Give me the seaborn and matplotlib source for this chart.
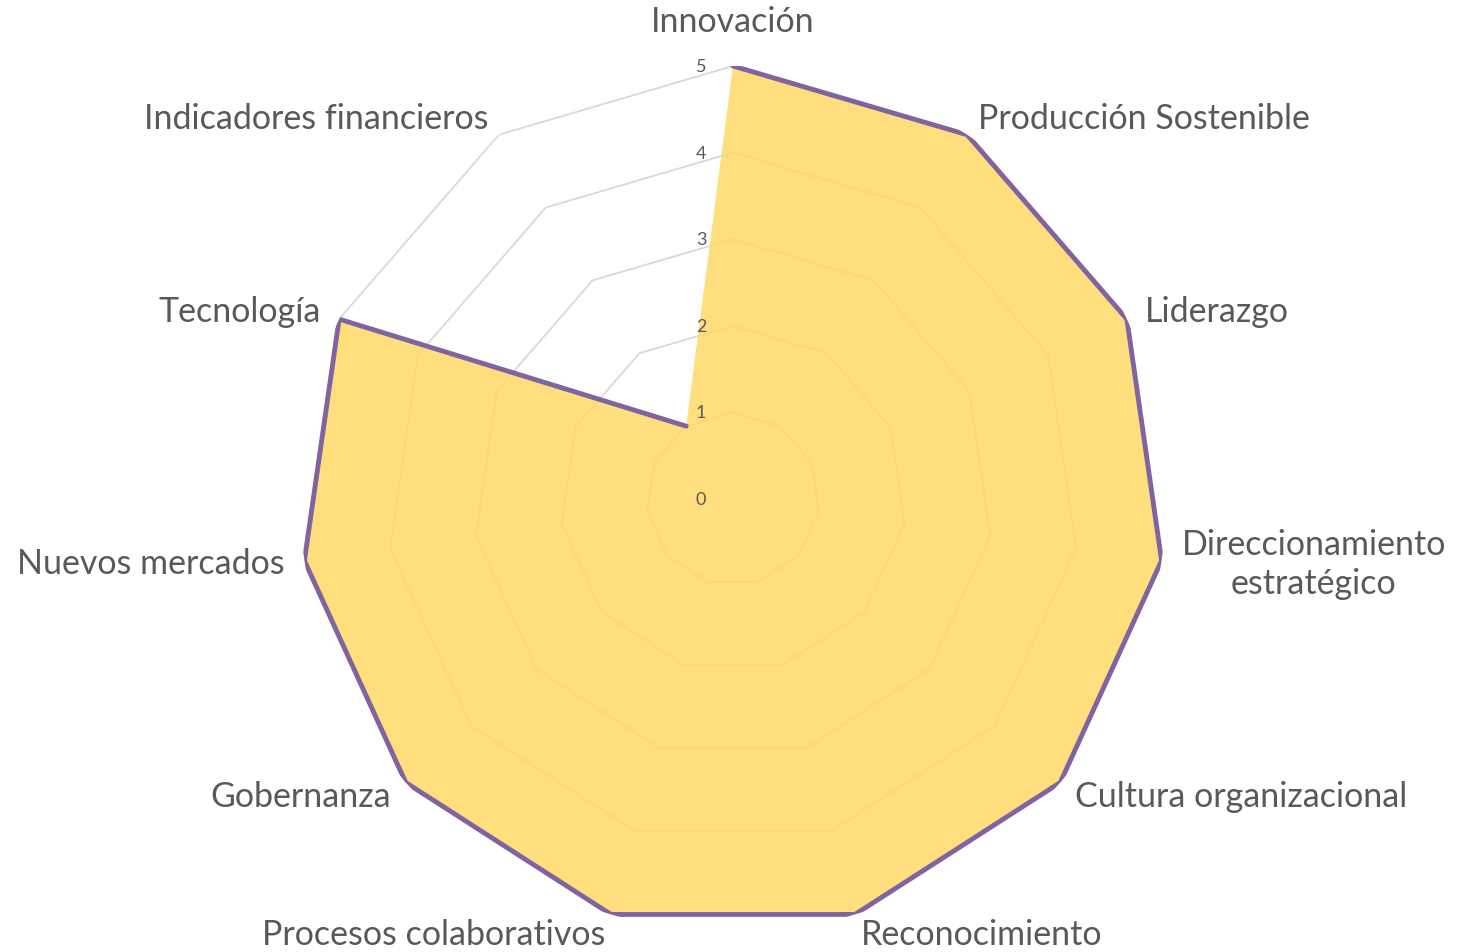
import numpy as np
import matplotlib
matplotlib.use("Agg")
import matplotlib.pyplot as plt
import seaborn as sns

categories = ["Innovación", "Producción Sostenible", "Liderazgo",
              "Direccionamiento\nestratégico", "Cultura organizacional",
              "Reconocimiento", "Procesos colaborativos", "Gobernanza",
              "Nuevos mercados", "Tecnología", "Indicadores financieros"]
values = [5, 5, 5, 5, 5, 5, 5, 5, 5, 5, 1]
ticks = [0, 1, 2, 3, 4, 5]

sns.set_theme(style="white")
plt.rcParams["font.family"] = ["Lato", "DejaVu Sans"]

fig = plt.figure(figsize=(14.59, 9.53), dpi=100)
ax = fig.add_axes([0.2056, 0.021, 0.5936, 0.9087], projection="polar")
ax.set_theta_offset(np.pi / 2)
ax.set_theta_direction(-1)

n = len(categories)
theta = np.linspace(0, 2 * np.pi, n, endpoint=False)
th_closed = np.append(theta, theta[0])
v_closed = np.append(values, values[0])

# polygon grid
for t in ticks[1:]:
    ax.plot(th_closed, [t] * (n + 1), color="#D9D9D9", lw=1.3, zorder=1)

ax.fill(th_closed, v_closed, color="#FFD966", alpha=0.85, zorder=2, lw=0)
sns.lineplot(x=th_closed, y=v_closed, sort=False, ax=ax, color="#8064A2",
             linewidth=3.5, zorder=3)

ax.set_ylim(0, 5)
ax.set_xticks([])
ax.set_yticks([])
ax.grid(False)
ax.spines["polar"].set_visible(False)
ax.set_facecolor("none")

# tick labels
for t in ticks:
    ax.annotate(str(t), xy=(0, t), xytext=(-32, 0), textcoords="offset pixels",
                ha="center", va="center", fontsize=13, color="#595959",
                zorder=5)

# category labels
for ang, lab in zip(theta, categories):
    s, c = np.sin(ang), np.cos(ang)
    if abs(s) < 0.1:
        ha = "center"
        off = (0, 45) if c > 0 else (0, -45)
    else:
        ha = "left" if s > 0 else "right"
        d = 20
        off = (s * d, c * d)
    ax.annotate(lab, xy=(ang, 5), xytext=off, textcoords="offset pixels",
                ha=ha, va="center", multialignment="center", fontsize=24.5,
                linespacing=1.3, color="#595959", annotation_clip=False)

fig.savefig("out.png", dpi=100)
